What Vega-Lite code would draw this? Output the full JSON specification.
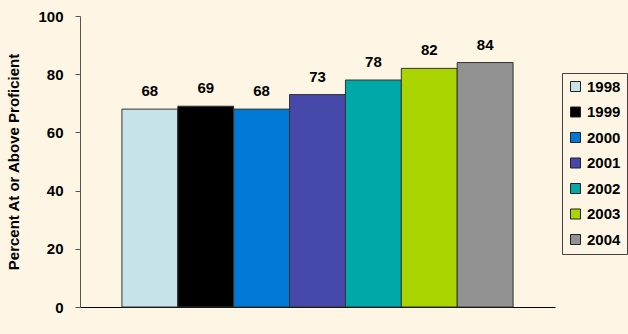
{
  "$schema": "https://vega.github.io/schema/vega-lite/v6.json",
  "width": 475,
  "height": 291,
  "autosize": {"type": "none"},
  "padding": {"left": 80, "top": 16, "right": 73, "bottom": 27},
  "background": "#FEF6E4",
  "config": {
    "view": {"stroke": null},
    "font": "Liberation Sans"
  },
  "data": {
    "values": [
      {"year": "1998", "pct": 68},
      {"year": "1999", "pct": 69},
      {"year": "2000", "pct": 68},
      {"year": "2001", "pct": 73},
      {"year": "2002", "pct": 78},
      {"year": "2003", "pct": 82},
      {"year": "2004", "pct": 84}
    ]
  },
  "encoding": {
    "x": {
      "field": "year", "type": "nominal",
      "scale": {"paddingInner": 0, "paddingOuter": 0.75},
      "axis": {"title": null, "labels": false, "ticks": false, "domainColor": "#000000", "domainWidth": 1}
    },
    "y": {
      "field": "pct", "type": "quantitative",
      "scale": {"domain": [0, 100], "nice": false},
      "axis": {
        "title": "Percent At or Above Proficient",
        "titleFont": "Liberation Sans", "titleFontSize": 15, "titleFontWeight": "bold", "titleColor": "#000000",
        "titlePadding": 16,
        "values": [0, 20, 40, 60, 80, 100],
        "labelFont": "Liberation Sans", "labelFontSize": 15, "labelFontWeight": "bold", "labelColor": "#000000",
        "labelPadding": 12,
        "grid": false, "domainColor": "#555555", "tickColor": "#555555", "tickSize": 5
      }
    }
  },
  "layer": [
    {
      "mark": {"type": "bar", "stroke": "#333333", "strokeWidth": 1},
      "encoding": {
        "color": {
          "field": "year", "type": "nominal",
          "scale": {
            "domain": ["1998", "1999", "2000", "2001", "2002", "2003", "2004"],
            "range": ["#C5E3E8", "#000000", "#0079D6", "#4649A9", "#00A8A8", "#AAD400", "#929292"]
          },
          "legend": {
            "title": null,
            "orient": "none",
            "legendX": 482,
            "legendY": 57,
            "symbolType": "square",
            "symbolSize": 100,
            "symbolStrokeColor": "#222222",
            "symbolStrokeWidth": 1,
            "symbolOpacity": 1,
            "labelFont": "Liberation Sans",
            "labelFontSize": 15,
            "labelFontWeight": "bold",
            "labelColor": "#000000",
            "rowPadding": 9.5,
            "padding": 6,
            "strokeColor": "#444444",
            "labelOffset": 4
          }
        }
      }
    },
    {
      "mark": {"type": "text", "dy": -18, "fontSize": 15, "fontWeight": "bold", "font": "Liberation Sans", "color": "#000000"},
      "encoding": {"text": {"field": "pct", "type": "quantitative"}}
    }
  ]
}
